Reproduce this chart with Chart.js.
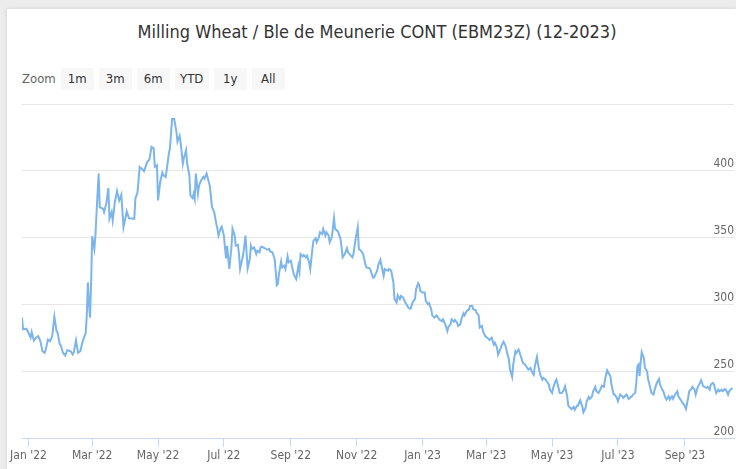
<!DOCTYPE html>
<html>
<head>
<meta charset="utf-8">
<script src="https://cdn.jsdelivr.net/npm/chart.js@4.4.0/dist/chart.umd.min.js"></script>
<style>
  html, body { margin: 0; padding: 0; }
  body { width: 736px; height: 469px; background: #ececec; position: relative; overflow: hidden; font-family: "DejaVu Sans Condensed", "DejaVu Sans", sans-serif; font-stretch: condensed; }
  #panel { position: absolute; left: 7px; top: 9px; width: 729px; height: 460px; background: #fff; box-shadow: 0 0 4px rgba(0,0,0,0.12); }
  #titulo { position: absolute; left: 10px; top: 21px; width: 734px; text-align: center; font-size: 18px; color: #333; }
  #zoom { position: absolute; left: 22px; top: 68px; height: 22px; font-size: 13px; color: #666; }
  #zoom span { display: inline-block; line-height: 22px; vertical-align: top; }
  #zoom .btn { background: #f7f7f7; color: #333; width: 33px; text-align: center; margin-left: 5px; border-radius: 2px; }
  #zoom .btn.ytd { width: 34px; }
  canvas { position: absolute; left: 0; top: 0; }
</style>
</head>
<body>
<div id="panel"></div>
<div id="titulo">Milling Wheat / Ble de Meunerie CONT (EBM23Z) (12-2023)</div>
<div id="zoom"><span>Zoom</span><span class="btn">1m</span><span class="btn">3m</span><span class="btn">6m</span><span class="btn ytd">YTD</span><span class="btn">1y</span><span class="btn">All</span></div>
<canvas id="grafica" width="736" height="469"></canvas>
<script>
// dias contados desde el 1 de enero de 2022
var fechaBase = Date.UTC(2022, 0, 1);
var dias = [-6,-5,-2,0,2,3,5,7,9,11,13,15,16,18,20,22,24,26,27,29,30,32,34,36,39,41,42,44,46,48,50,53,54,55,56,57,58,59,61,62,63,65,66,69,70,72,74,75,77,78,80,82,84,86,88,91,93,98,99,101,103,105,107,110,112,114,116,117,119,120,122,124,125,127,128,130,131,133,135,137,138,140,141,143,144,146,147,149,150,152,153,154,155,157,158,160,162,163,165,167,168,170,172,174,175,176,178,179,181,182,183,184,186,188,189,191,192,194,195,196,198,199,201,203,205,206,207,209,211,212,214,215,216,219,221,223,224,226,228,229,230,231,232,234,235,237,238,240,241,243,245,246,248,250,251,252,254,255,257,258,260,261,263,264,266,267,269,270,272,273,275,276,278,279,281,283,284,286,287,289,290,291,293,295,296,298,300,301,303,305,306,308,310,312,313,316,317,319,320,323,324,326,327,329,330,333,334,336,338,339,341,342,344,345,347,349,351,352,354,356,358,359,361,362,363,365,367,368,370,371,373,374,376,378,380,381,383,384,386,388,389,391,392,394,395,397,398,400,401,403,404,406,408,409,411,412,414,415,417,418,420,421,423,425,427,429,431,432,434,435,437,438,440,442,443,445,446,448,449,451,452,454,455,457,458,460,462,463,465,466,468,469,471,472,474,476,477,479,480,482,483,485,486,488,489,491,492,494,496,497,499,500,502,503,505,506,508,509,511,513,514,516,517,519,520,522,523,525,526,528,530,531,533,534,536,537,539,540,542,543,545,546,548,550,551,553,554,556,557,559,560,562,563,564,565,566,567,568,570,571,573,574,576,577,579,580,582,584,585,587,588,590,591,593,594,596,597,599,601,602,604,605,607,608,609,611,612,614,615,617,618,620,622,623,625,626,628,629,631,632,634,635,637,639,640,642,643,645,646,648,649,651,652];
var precios = [290.4,281.6,282.1,279.1,275.4,279.6,273.3,275.4,276.6,272.8,265.3,264.1,266.6,274.1,272.8,276.6,291.1,280.3,279.1,270.3,269.6,264.1,262.1,266.1,265.3,262.8,264.5,273.3,264.1,265.3,272.1,279.1,291.6,316.7,301.6,290.4,315.4,351.2,341.7,351.7,368,398,373,371.7,369.2,375.4,387.2,364.2,369.2,362.9,376.7,385,377.9,382.2,358,369.7,364.7,364.2,379.2,384,403,401.7,399.7,406.8,408.5,418,416.7,403,404.2,377.9,391.7,398.7,396.7,395.5,400.5,413,416.7,438.7,438.7,429.3,421.8,426.3,420.5,405.5,409.8,415.5,405.5,396.7,381.7,379.7,383,379.2,398,383,389.2,393,395.5,394.2,398,391.7,388.7,373,369.2,360.4,356.7,351.7,357.2,358.4,351.7,342.9,334.7,344.1,326.7,342.9,356.7,351.7,344.1,344.7,337.9,326.7,334.2,337.9,351.7,327.2,334.2,344.1,341.7,342.9,337.9,340.4,339.2,342.9,343.4,342.2,341.1,341.7,339.6,339.2,334.2,325.4,314.6,315.4,322.9,332.4,327.9,329.1,326.7,336.2,331.7,332.9,325.4,322.1,319.1,329.1,324.6,337.9,336.2,337.2,335.4,336.6,331.7,326.7,341.7,347.9,349.7,346.7,350.4,354.2,352.9,356.7,351.7,354.2,351.7,346.7,350.4,364.7,356.7,355.4,354.2,349.2,342.9,335.4,337.9,342.2,339.2,337.2,335.4,337.9,349.2,358,341.7,340.4,337.9,330.4,327.9,327.2,325.4,320.4,320.4,325.4,329.6,333.6,329.1,321.6,326.7,325.4,326.7,325.4,316.7,304.2,301.7,307.1,304.2,306.6,305.4,301.7,299.1,297.6,297.1,302.1,304.2,311.6,316.1,314.6,310.4,309.2,309.2,302.9,300.4,301.2,296.6,292.1,290.4,292.1,289.6,288.6,287.8,289.1,285.4,280.3,283.6,285.4,289.1,287.4,288.6,286.6,284.1,285.4,289.1,293.6,292.1,295.4,296.6,299.1,299.1,296.6,296.1,294.1,292.1,282.9,284.1,280.3,276.6,275.4,273.6,275.4,270.3,271.6,267.9,262.8,266.6,269.1,272.4,269.1,265.3,259.1,251.6,246.1,255.3,265.3,264.1,266.6,264.1,259.1,256.6,255.3,252.8,251.6,252.8,250.3,247.8,254.1,261.1,255.3,247.8,244.1,245.3,244.1,242.8,240.4,236.6,234.1,237.9,242.8,244.1,237.9,234.1,234.1,236.6,239.1,231.6,224.6,222.9,222.1,223.6,221.6,224.6,224.6,228.6,224.1,219.6,222.9,227.9,231.2,229.7,231.6,235.4,238.7,235.4,234.1,237.1,239.6,238.7,244.1,251.1,249.6,246.6,240.4,232.9,232.9,230.4,227.9,232.9,231.6,230.4,232.2,232.9,229.7,230.4,231.6,232.9,234.1,241.6,254.1,255.3,246.6,256.6,264.6,260.3,252.8,250.3,244.1,237.9,234.1,232.9,236.6,241.6,244.6,240.4,236.6,235.4,230.4,229.1,231.6,229.1,231.6,229.7,232.9,235.4,231.6,229.1,227.9,225.4,224.1,222.1,230.4,235.4,237.1,238.7,236.6,232.9,238.7,241.6,243.6,239.1,238.7,237.9,238.7,236.6,240.4,241.6,240.4,234.1,236.6,235.4,236.6,235.4,237.1,236.6,232.9,235.4,237.1,237.9];

var mesesEtiqueta = ["Jan", "Feb", "Mar", "Apr", "May", "Jun", "Jul", "Aug", "Sep", "Oct", "Nov", "Dec"];
// marcas del eje x: cada dos meses
var marcasMes = [[2022,0],[2022,2],[2022,4],[2022,6],[2022,8],[2022,10],[2023,0],[2023,2],[2023,4],[2023,6],[2023,8]];
var marcasY = [200, 250, 300, 350, 400, 450];

var puntos = [];
for (var i = 0; i < dias.length; i++) {
    puntos.push({x: dias[i], y: precios[i]});
}

var diaDeMarca = marcasMes.map(function(m){
    return Math.round((Date.UTC(m[0], m[1], 1) - fechaBase) / 86400000);
});

var fuenteEje = {family: "'DejaVu Sans Condensed', 'DejaVu Sans'", size: 12};

new Chart("grafica", {
    type: "line",
    data: {
        datasets: [{
            label: "EBM23Z",
            data: puntos,
            borderColor: "#7cb5ec",
            borderWidth: 2,
            pointRadius: 0,
            tension: 0,
            fill: false
        }]
    },
    options: {
        responsive: false,
        animation: false,
        layout: {
            padding: {left: 22, right: 2, top: 104, bottom: 4}
        },
        plugins: {
            legend: {display: false},
            tooltip: {enabled: false}
        },
        scales: {
            x: {
                type: "linear",
                min: -6,
                max: 653.5,
                afterBuildTicks: function(eje){
                    eje.ticks = diaDeMarca.map(function(d){ return {value: d}; });
                },
                ticks: {
                    color: "#666",
                    font: fuenteEje,
                    padding: 2,
                    maxRotation: 0,
                    autoSkip: false,
                    callback: function(v){
                        var idx = diaDeMarca.indexOf(v);
                        if (idx < 0) return "";
                        var m = marcasMes[idx];
                        return mesesEtiqueta[m[1]] + " '" + String(m[0]).slice(2);
                    }
                },
                grid: {drawOnChartArea: false, drawTicks: true, tickLength: 8, color: "#ccd6eb", lineWidth: 1},
                border: {color: "#ccd6eb"}
            },
            y: {
                position: "right",
                min: 200,
                max: 450,
                afterBuildTicks: function(eje){
                    eje.ticks = marcasY.map(function(v){ return {value: v}; });
                },
                ticks: {
                    mirror: true,
                    padding: 0,
                    labelOffset: -7,
                    color: "#666",
                    font: fuenteEje,
                    callback: function(v){ return v === 450 ? "" : v; }
                },
                grid: {color: "#e6e6e6", drawTicks: false},
                border: {display: false}
            }
        }
    }
});
</script>
</body>
</html>
